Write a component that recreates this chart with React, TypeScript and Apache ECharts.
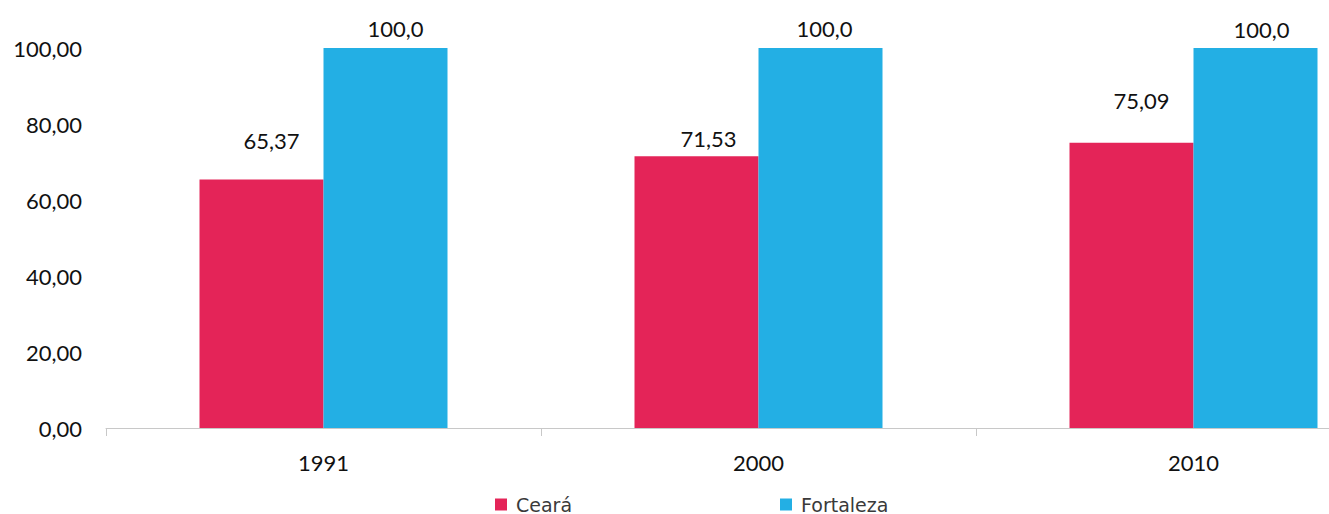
import React, { useEffect, useRef } from "react";
import * as echarts from "echarts";

const categories = ["1991", "2000", "2010"];
const seriesNames = ["Ceará", "Fortaleza"];
const cearaValues = [65.37, 71.53, 75.09];
const fortalezaValues = [100.0, 100.0, 100.0];
const yTicks = { min: 0, max: 100, interval: 20 };

// label nudges (style only)
const cearaLabelOffsets = [[10, -23], [12, -2], [10, -26]];
const fortalezaLabelOffsets = [[10, -3.5], [4, -3.5], [6, -2.5]];

const PINK = "#E42458";
const BLUE = "#23AFE4";
const NUM_FONT = "Lato";

const fmt = (v: number, d: number) => v.toFixed(d).replace(".", ",");

export default function App() {
  const ref = useRef<HTMLDivElement>(null);
  useEffect(() => {
    if (!ref.current) return;
    const chart = echarts.init(ref.current, undefined, { renderer: "svg" });
    const labelBase = {
      show: true,
      position: "top" as const,
      distance: 5,
      fontFamily: NUM_FONT,
      fontSize: 22,
      color: "#111",
    };
    const legendText = {
      fontFamily: "'DejaVu Sans'",
      fontSize: 19,
      lineHeight: 18,
      color: "#3a3a3a",
      padding: [0, 0, 0, 4],
    };
    chart.setOption({
      animation: false,
      backgroundColor: "#ffffff",
      grid: { left: 106, top: 48, width: 1305, height: 380, containLabel: false },
      legend: [
        {
          left: 495,
          top: 495,
          padding: 0,
          data: [seriesNames[0]],
          icon: "rect",
          itemWidth: 12,
          itemHeight: 12,
          textStyle: legendText,
        },
        {
          left: 780,
          top: 495,
          padding: 0,
          data: [seriesNames[1]],
          icon: "rect",
          itemWidth: 12,
          itemHeight: 12,
          textStyle: legendText,
        },
      ],
      xAxis: {
        type: "category",
        data: categories,
        axisLine: { show: true, lineStyle: { color: "#c8c8c8", width: 1 } },
        axisTick: { show: true, length: 8, alignWithLabel: false, lineStyle: { color: "#c8c8c8" } },
        axisLabel: { margin: 23, fontFamily: NUM_FONT, fontSize: 22, color: "#111" },
        splitLine: { show: false },
      },
      yAxis: {
        type: "value",
        min: yTicks.min,
        max: yTicks.max,
        interval: yTicks.interval,
        axisLine: { show: false },
        axisTick: { show: false },
        splitLine: { show: false },
        axisLabel: {
          margin: 24,
          fontFamily: NUM_FONT,
          fontSize: 22,
          color: "#111",
          formatter: (v: number) => fmt(v, 2),
        },
      },
      series: [
        {
          name: seriesNames[0],
          type: "bar",
          barWidth: 124,
          barGap: "0%",
          itemStyle: { color: PINK },
          data: cearaValues.map((v, i) => ({ value: v, label: { offset: cearaLabelOffsets[i] } })),
          label: { ...labelBase, formatter: (p: any) => fmt(p.value, 2) },
        },
        {
          name: seriesNames[1],
          type: "bar",
          barWidth: 124,
          barGap: "0%",
          itemStyle: { color: BLUE },
          data: fortalezaValues.map((v, i) => ({ value: v, label: { offset: fortalezaLabelOffsets[i] } })),
          label: { ...labelBase, formatter: (p: any) => fmt(p.value, 1) },
        },
      ],
    });
    return () => chart.dispose();
  }, []);
  return (
    <div
      style={{ position: "absolute", left: 0, top: 0, width: 1329, height: 514, overflow: "hidden", background: "#fff" }}
    >
      <div ref={ref} style={{ width: 1420, height: 514 }} />
    </div>
  );
}
